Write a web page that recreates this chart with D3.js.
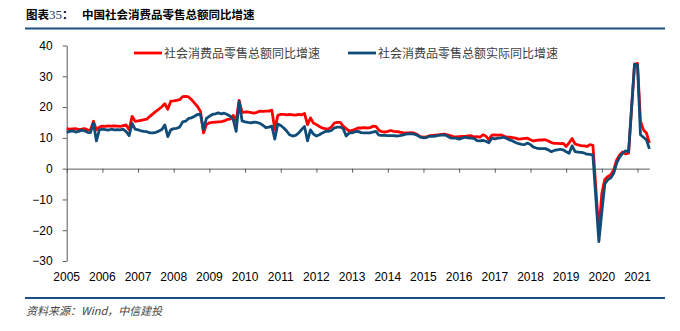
<!DOCTYPE html>
<html>
<head>
<meta charset="utf-8">
<script src="https://cdn.jsdelivr.net/npm/d3@7"></script>
<style>
  body { margin: 0; background: #fff; }
  svg { display: block; }
</style>
</head>
<body>
<svg id="chart_retail" width="680" height="331"></svg>
<script>
// monthly, starting 2005-03; null = month not published (Jan merged into Feb)
const nominal = [
  13.0, 12.8, 12.9, 13.0, 12.7, 12.8, 13.0, 12.6, 12.5, 15.4,
  12.6, 13.5, 13.8, 13.7, 13.9, 13.8, 13.9, 13.8, 13.7, 14.0, 14.2, 12.6,
  17.0, 15.4, 15.5, 15.7, 15.9, 16.1, 17.0, 17.8, 18.6, 19.3, 20.1, 21.1,
  19.3, 21.9, 22.0, 22.2, 22.4, 23.4, 23.5, 23.3, 22.4, 21.3, 20.2, 18.6,
  11.6, 14.3, 14.9, 15.0, 15.1, 15.2, 15.3, 15.5, 16.0, 16.1, 17.3, 15.5,
  22.2, 18.2, 18.4, 18.4, 18.2, 18.0, 18.3, 18.7, 18.6, 18.7, 18.7, 19.0,
  12.7, 17.3, 17.6, 17.6, 17.5, 17.6, 17.5, 17.4, 17.6, 17.5, 17.9, 14.3,
  16.5, 14.8, 14.3, 13.7, 13.2, 13.0, 12.9, 13.5, 14.8, 15.0, 15.0, 13.8,
  13.0, 12.2, 12.4, 12.8, 13.2, 13.2, 13.3, 13.2, 13.3, 13.8, 13.7, 12.5,
  12.0, 11.9, 12.1, 12.4, 12.1, 12.0, 11.9, 11.7, 11.6, 11.6, 11.7, 11.5,
  11.0, 10.4, 10.2, 10.3, 10.7, 10.8, 10.9, 11.0, 11.1, 11.2, 11.0, 10.7,
  10.4, 10.3, 10.4, 10.5, 10.5, 10.6, 10.7, 10.3, 10.4, 10.2, 11.0, 10.6,
  9.4, 10.9, 11.0, 10.9, 11.0, 10.6, 10.2, 10.2, 10.1, 9.9, 9.6, 9.7,
  9.8, 9.9, 9.4, 9.0, 9.2, 9.3, 9.3, 9.4, 9.0, 8.5, 8.2, 8.2,
  8.1, 8.2, 7.2, 8.4, 9.8, 8.0, 7.7, 7.5, 7.4, 7.2, 7.8, 7.6,
  null, -20.5, -8.0, -3.5, -2.6, -2.0, -0.4, 2.8, 4.4, 5.4, 4.8, 5.0,
  null, 33.8, 34.2, 15.4, 12.6, 11.6, 8.3
];

const real = [
  11.8, 12.1, 12.3, 11.9, 12.1, 12.5, 12.3, 11.8, 11.7, 14.8,
  9.0, 12.6, 12.8, 12.7, 12.5, 12.8, 12.6, 12.7, 12.6, 12.8, 12.0, 10.7,
  14.7, 12.8, 12.6, 12.3, 12.1, 12.0, 11.6, 11.6, 11.8, 12.2, 12.7, 14.2,
  10.4, 12.6, 13.0, 13.1, 13.5, 15.2, 15.4, 16.3, 16.5, 17.0, 17.6, 17.6,
  12.7, 16.3, 17.0, 17.6, 17.8, 18.1, 17.8, 18.0, 17.6, 17.0, 16.0, 12.1,
  21.8, 15.5, 15.2, 15.0, 14.9, 15.1, 15.0, 14.7, 14.1, 13.3, 13.5, 13.8,
  9.6, 14.5, 14.0, 13.2, 12.2, 11.0, 10.6, 10.8, 11.5, 12.7, 13.7, 9.0,
  12.6, 11.2, 10.6, 11.0, 11.6, 12.1, 12.1, 12.4, 13.2, 13.5, 13.5, 13.0,
  10.6, 11.6, 11.6, 12.0, 12.1, 11.7, 11.6, 11.6, 11.6, 11.9, 12.1, 10.9,
  10.8, 10.8, 10.7, 10.7, 10.7, 10.6, 10.7, 10.9, 11.2, 11.3, 11.3, 11.2,
  10.8, 10.2, 10.0, 10.1, 10.5, 10.5, 10.6, 10.8, 10.9, 11.0, 10.6, 10.0,
  9.9, 9.9, 9.6, 9.9, 10.2, 10.0, 9.9, 9.8, 9.1, 9.0, 9.2, 8.9,
  8.4, 9.9, 9.7, 9.9, 10.0, 10.2, 9.8, 9.3, 9.0, 8.5, 8.1, 7.9,
  7.8, 8.3, 7.8, 7.0, 6.7, 6.5, 6.5, 6.5, 6.1, 5.5, 5.9, 6.1,
  6.3, 6.1, 5.5, 5.0, 7.4, 5.5, 5.4, 5.3, 5.1, 4.7, 4.6, 4.4,
  null, -23.7, -14.0, -5.0, -3.6, -3.0, -1.5, 1.8, 3.8, 5.0, 5.8, 5.5,
  null, 34.0, 33.6, 11.0, 10.2, 9.4, 6.4
];

const years = d3.range(2005, 2022);
const yTicks = [-30, -20, -10, 0, 10, 20, 30, 40];
const seriesNames = ["社会消费品零售总额同比增速", "社会消费品零售总额实际同比增速"];
const seriesColors = ["#ff0000", "#0f4c78"];

const cjk = "'Noto Sans CJK SC', sans-serif";
const latin = "'Liberation Sans', Arial, sans-serif";

const svg = d3.select("#chart_retail");

// title + rules
svg.append("text")
  .attr("x", 26).attr("y", 19)
  .style("font-family", cjk).style("font-size", "11.5px").style("font-weight", 700)
  .call(t => {
    t.append("tspan").text("图表");
    t.append("tspan").style("font-family", "'Liberation Serif', serif").style("font-weight", 400)
      .style("font-size", "13px").attr("fill", "#1a3a6a").text("35");
    t.append("tspan").text("：");
    t.append("tspan").attr("x", 82).text("中国社会消费品零售总额同比增速");
  });

svg.append("line").attr("x1", 25).attr("x2", 665).attr("y1", 28.5).attr("y2", 28.5)
  .attr("stroke", "#1a4f80").attr("stroke-width", 2);
svg.append("line").attr("x1", 25).attr("x2", 665).attr("y1", 298).attr("y2", 298)
  .attr("stroke", "#1a4f80").attr("stroke-width", 2);

svg.append("text")
  .attr("x", 26).attr("y", 315)
  .style("font-family", cjk).style("font-size", "11px").style("font-style", "italic")
  .attr("fill", "#444")
  .text("资料来源：Wind，中信建投");

// scales
const x = d3.scalePoint()
  .domain(d3.range(nominal.length))
  .range([66.7, 649.4]);

const y = d3.scaleLinear()
  .domain([-30, 40])
  .range([261, 45.5]);

// y axis
const yAxis = svg.append("g")
  .attr("transform", `translate(${x(0)},0)`)
  .call(d3.axisLeft(y).tickValues(yTicks).tickSize(4).tickSizeOuter(0).tickPadding(10));
yAxis.select(".domain").attr("stroke", "#595959");
yAxis.selectAll(".tick line").attr("stroke", "#595959");
yAxis.selectAll("text").style("font-family", latin).style("font-size", "12px").attr("fill", "#000");

// x axis sits on zero, labels drop to the bottom
const yearIdx = years.map((d, i) => i * 12);
const xAxis = svg.append("g")
  .attr("transform", `translate(0,${y(0)})`)
  .call(d3.axisBottom(x).tickValues(yearIdx).tickSize(4).tickSizeOuter(0).tickFormat(""));
xAxis.select(".domain").attr("stroke", "#595959");
xAxis.selectAll(".tick line").attr("stroke", "#595959");

svg.append("g")
  .selectAll("text")
  .data(years)
  .join("text")
  .attr("x", (d, i) => x(yearIdx[i]))
  .attr("y", 281)
  .attr("text-anchor", "middle")
  .style("font-family", latin).style("font-size", "12px")
  .text(d => d);

// lines (missing months are bridged)
const line = d3.line()
  .x(d => x(d.i))
  .y(d => y(d.v));

[nominal, real].forEach((s, k) => {
  const pts = s.map((v, i) => ({ i, v })).filter(d => d.v !== null);
  svg.append("path")
    .datum(pts)
    .attr("d", line)
    .attr("fill", "none")
    .attr("stroke", seriesColors[k])
    .attr("stroke-width", 2.8)
    .attr("stroke-linejoin", "round");
});

// legend
const legendX = [134, 348];
const legend = svg.append("g")
  .selectAll("g")
  .data(seriesNames)
  .join("g")
  .attr("transform", (d, i) => `translate(${legendX[i]},53)`);
legend.append("line")
  .attr("x1", 0).attr("x2", 28)
  .attr("stroke", (d, i) => seriesColors[i])
  .attr("stroke-width", 2.8);
legend.append("text")
  .attr("x", 30).attr("y", 4.5)
  .style("font-family", cjk).style("font-size", "12px")
  .attr("fill", "#404040")
  .text(d => d);
</script>
</body>
</html>
